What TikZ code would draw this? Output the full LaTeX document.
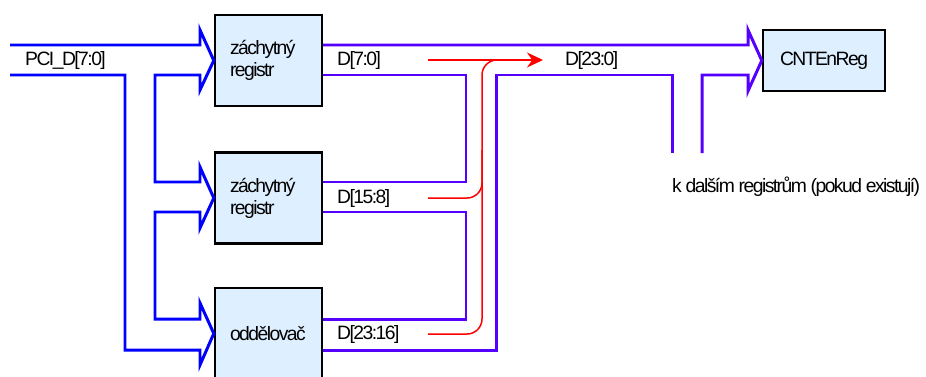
\documentclass[tikz,border=0pt]{standalone}
\usepackage{fontspec}
\setmainfont{Liberation Sans}[LetterSpace=-8]
\usetikzlibrary{arrows.meta}
\definecolor{inblue}{RGB}{0,0,255}
\definecolor{outblue}{RGB}{85,0,255}
\definecolor{regfill}{RGB}{222,239,255}

\begin{document}
\begin{tikzpicture}[x=0.02cm,y=-0.02cm,
  every node/.style={font=\fontsize{11}{12.5}\selectfont},%taille du texte
  regbox/.style={draw=black, line width=1.4pt, fill=regfill, minimum width=2.14cm,
    minimum height=1.82cm, text width=1.54cm, inner xsep=0.3cm, align=left},
  inbus/.style={draw=inblue, line width=1.7pt},
  outbus/.style={draw=outblue, line width=1.7pt},
  flow/.style={draw=red, line width=0.85pt, rounded corners=0.3cm}]
  \useasboundingbox (0,0) rectangle (926,376);

  \node[regbox] (reg1) at (268.5,60.5) {záchytný\\registr};
  \node[regbox] (reg2) at (268.5,198) {záchytný\\registr};
  \node[regbox] (buf) at (268.5,333.5) {oddělovač};
  \node[regbox, minimum width=2.44cm, minimum height=1.22cm, text width=, inner xsep=0pt,
    align=center] (cnt) at (824,60.5) {CNTEnReg};

  % vstupni sbernice
  \draw[inbus] (10,45) -- (200,45) -- (200,30) -- (reg1.west) -- (200,90) -- (200,75)
    -- (155,75) -- (155,182) -- (200,182) -- (200,167) -- (reg2.west) -- (200,228)
    -- (200,212) -- (155,212) -- (155,319) -- (200,319) -- (200,303) -- (buf.west)
    -- (200,365) -- (200,350) -- (125,350) -- (125,75) -- (10,75);

  % vystupni sbernice
  \draw[outbus] (reg1.east |- 0,45) -- (748,45) -- (748,30) -- (cnt.west) -- (748,91)
    -- (748,75) -- (702,75) -- (702,153);
  \draw[outbus] (672,153) -- (672,75) -- (496,75) -- (496,350) -- (buf.east |- 0,350);
  \draw[outbus] (reg1.east |- 0,75) -- (466,75) -- (466,182) -- (reg2.east |- 0,182);
  \draw[outbus] (reg2.east |- 0,212) -- (466,212) -- (466,319) -- (buf.east |- 0,319);

  % smer toku dat
  \draw[flow, -{Stealth[length=0.32cm,width=0.3cm]}] (428,60) -- (543,60);
  \draw[flow] (428,334) -- (482,334) -- (482,60) -- (515,60);
  \draw[flow] (428,198) -- (482,198) -- (482,150);

  \node (lblpci) at (19,60) [right] {PCI\_D[7:0]};
  \node (lbl70) at (331,60) [right] {D[7:0]};
  \node (lbl158) at (331,198) [right] {D[15:8]};
  \node (lbl2316) at (331,334) [right] {D[23:16]};
  \node (lbl230) at (559,60) [right] {D[23:0]};
  \node (lblnext) at (666,187) [right] {k dalším registrům (pokud existují)};
\end{tikzpicture}
\end{document}
